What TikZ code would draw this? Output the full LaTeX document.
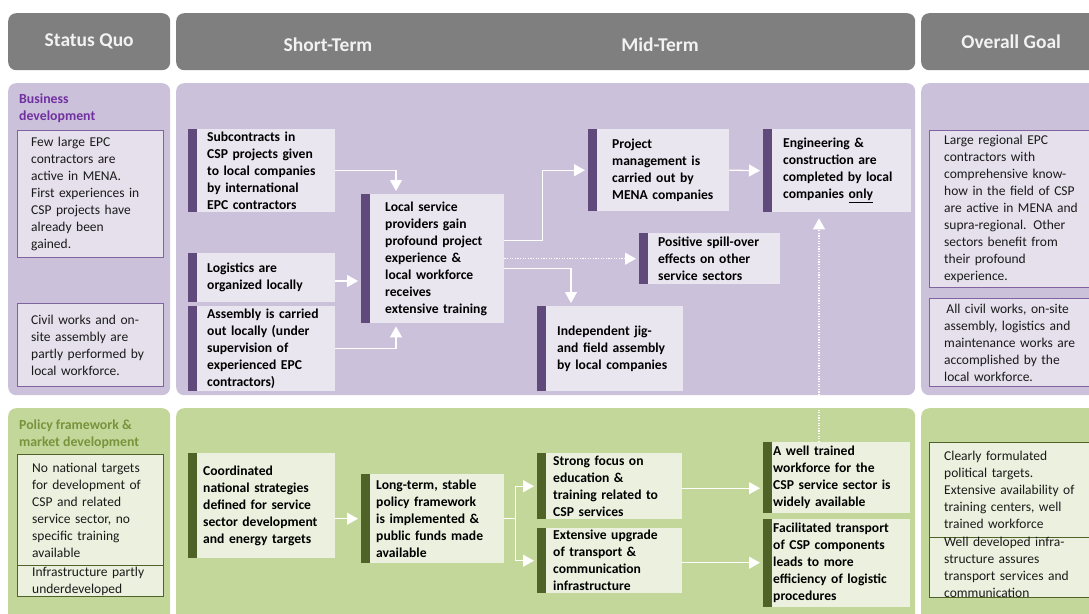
\documentclass[tikz,border=0pt]{standalone}
\usepackage{fontspec}
\setmainfont{Carlito}
\usetikzlibrary{arrows.meta,calc}
\definecolor{hdrc}{HTML}{7F7F7F}
\definecolor{hdrtxtc}{HTML}{F2F2F2}
\definecolor{panP}{HTML}{CCC1DA}
\definecolor{panG}{HTML}{C4D79B}
\definecolor{fillP}{HTML}{EAE6F0}
\definecolor{fillPL}{HTML}{E5E0EC}
\definecolor{barP}{HTML}{604A7B}
\definecolor{bordP}{HTML}{8064A2}
\definecolor{labP}{HTML}{7030A0}
\definecolor{fillG}{HTML}{EBF1DE}
\definecolor{barG}{HTML}{4F6228}
\definecolor{labG}{HTML}{77933C}
\definecolor{txtc}{HTML}{1A1A1A}
\newcommand\pbox[8]{%
  \pgfmathsetmacro\bw{#4-#2}\pgfmathsetmacro\bh{#5-#3}\pgfmathsetmacro\tw{#4-#2-#7}%
  \node[#6, anchor=north west, minimum width=\bw pt, minimum height=\bh pt] (#1) at (#2,#3) {};%
  \node[#6-t, text width=\tw pt, anchor=west] (#1-t) at ([xshift=#7pt]#1.west) {#8};%
}
\begin{document}
\begin{tikzpicture}[x=1pt,y=-1pt,
  hdr/.style={fill=hdrc, rounded corners=8pt, inner sep=0pt, text=hdrtxtc, font=\fontsize{19.5}{22}\selectfont\bfseries},
  hdrtxt/.style={text=hdrtxtc, inner sep=0pt, font=\fontsize{19.5}{22}\selectfont\bfseries},
  panelP/.style={fill=panP, rounded corners=8pt, inner sep=0pt},
  panelG/.style={fill=panG, rounded corners=8pt, inner sep=0pt},
  txtb/.style={inner sep=0pt, align=left, text=black, font=\fontsize{13.6}{17}\selectfont\bfseries},
  txtr/.style={inner sep=0pt, align=left, text=txtc, font=\fontsize{13.5}{17}\selectfont},
  nodeP/.style={fill=fillP, inner sep=0pt, path picture={\fill[barP] (path picture bounding box.north west) rectangle ([xshift=9pt]path picture bounding box.south west);}},
  nodeG/.style={fill=fillG, inner sep=0pt, path picture={\fill[barG] (path picture bounding box.north west) rectangle ([xshift=9pt]path picture bounding box.south west);}},
  nodeP-t/.style={txtb}, nodeG-t/.style={txtb},
  sideP/.style={fill=fillPL, draw=bordP, line width=1pt, inner sep=0pt},
  sideG/.style={fill=fillG, draw=barG, line width=1pt, inner sep=0pt},
  sideP-t/.style={txtr}, sideG-t/.style={txtr},
  lab/.style={inner sep=0pt, align=left, font=\fontsize{13.8}{17}\selectfont\bfseries},
  arr/.style={draw=white, line width=1.3pt, -{Triangle[length=11pt,width=12pt]}, shorten >=3pt},
  darr/.style={arr, dash pattern=on 1.2pt off 1.4pt}
]
\useasboundingbox (0,0) rectangle (1089,613);
\clip (0,0) rectangle (1089,613);

% headers
\node[hdr, anchor=north west, minimum width=162pt, minimum height=57pt] (h1) at (8,13) {Status Quo};
\node[hdr, anchor=north west, minimum width=739pt, minimum height=57pt] (h2) at (176,13) {};
\node[hdrtxt] (h2a) at (328,45) {Short-Term};
\node[hdrtxt] (h2b) at (660,45) {Mid-Term};
\node[hdr, anchor=north west, minimum width=180pt, minimum height=57pt] (h3) at (921,13) {Overall Goal};

% panels
\node[panelP, anchor=north west, minimum width=162pt, minimum height=312pt] (pL1) at (8,83) {};
\node[panelP, anchor=north west, minimum width=739pt, minimum height=312pt] (pM1) at (176,83) {};
\node[panelP, anchor=north west, minimum width=180pt, minimum height=312pt] (pR1) at (921,83) {};
\node[panelG, anchor=north west, minimum width=162pt, minimum height=220pt] (pL2) at (8,408) {};
\node[panelG, anchor=north west, minimum width=739pt, minimum height=220pt] (pM2) at (176,408) {};
\node[panelG, anchor=north west, minimum width=180pt, minimum height=220pt] (pR2) at (921,408) {};

% row labels
\node[lab, text=labP, anchor=west] (labB) at (19,108.5) {Business\\development};
\node[lab, text=labG, anchor=west] (labPo) at (19,434) {Policy framework \&\\market development};

% left column
\pbox{sq1}{17}{130}{163}{257}{sideP}{14}{Few large EPC\\contractors are\\active in MENA.\\First experiences in\\CSP projects have\\already been\\gained.}
\pbox{sq2}{17}{303}{163}{386}{sideP}{14}{Civil works and on-\\site assembly are\\partly performed by\\local workforce.}
\pbox{sq3}{17}{454}{163}{565}{sideG}{15}{No national targets\\for development of\\CSP and related\\service sector, no\\specific training\\available}
\pbox{sq4}{17}{565}{163}{596}{sideG}{15}{Infrastructure partly\\underdeveloped}

% business nodes
\pbox{sub}{188}{129}{335}{212}{nodeP}{19}{Subcontracts in\\CSP projects given\\to local companies\\by international\\EPC contractors}
\pbox{logi}{188}{253}{335}{302}{nodeP}{19}{Logistics are\\organized locally}
\pbox{asm}{188}{306}{335}{391}{nodeP}{19}{Assembly is carried\\out locally (under\\supervision of\\experienced EPC\\contractors)}
\pbox{loc}{361}{194}{504}{323}{nodeP}{24}{Local service\\providers gain\\profound project\\experience \&\\local workforce\\receives\\extensive training}
\pbox{pm}{588}{129}{729}{211}{nodeP}{24}{Project\\management is\\carried out by\\MENA companies}
\pbox{sp}{639}{233}{780}{284}{nodeP}{19}{Positive spill-over\\effects on other\\service sectors}
\pbox{ind}{537}{306}{683}{391}{nodeP}{20}{Independent jig-\\and field assembly\\by local companies}
\pbox{eng}{763}{129}{911}{212}{nodeP}{20}{Engineering \&\\construction are\\completed by local\\companies \underline{only}}

% policy nodes
\pbox{coo}{188}{453}{335}{558}{nodeG}{15}{Coordinated\\national strategies\\defined for service\\sector development\\and energy targets}
\pbox{lt}{361}{474}{504}{563}{nodeG}{15}{Long-term, stable\\policy framework\\is implemented \&\\public funds made\\available}
\pbox{sf}{537}{453}{682}{519}{nodeG}{16}{Strong focus on\\education \&\\training related to\\CSP services}
\pbox{ext}{537}{528}{682}{593}{nodeG}{16}{Extensive upgrade\\of transport \&\\communication\\infrastructure}
\pbox{wt}{763}{442}{910}{513}{nodeG}{10}{A well trained\\workforce for the\\CSP service sector is\\widely available}
\pbox{fac}{763}{519}{910}{607}{nodeG}{10}{Facilitated transport\\of CSP components\\leads to more\\efficiency of logistic\\procedures}

% right column
\pbox{og1}{929}{130}{1100}{287}{sideP}{15}{Large regional EPC\\contractors with\\comprehensive know-\\how in the field of CSP\\are active in MENA and\\supra-regional. Other\\sectors benefit from\\their profound\\experience.}
\pbox{og2}{929}{298}{1100}{386}{sideP}{15}{\,All civil works, on-site\\assembly, logistics and\\maintenance works are\\accomplished by the\\local workforce.}
\pbox{og3}{929}{442}{1100}{537}{sideG}{15}{Clearly formulated\\political targets.\\Extensive availability of\\training centers, well\\trained workforce}
\pbox{og4}{929}{537}{1100}{597}{sideG}{15}{Well developed infra-\\structure assures\\transport services and\\communication}

% connectors business
\draw[arr] (sub.east) -| ([xshift=35pt]loc.north west);
\draw[arr] (logi.east |- 0,281) -- (loc.west |- 0,281);
\draw[arr] (asm.east) -| ([xshift=35pt]loc.south west);
\draw[arr] ([yshift=18pt]loc.east) -- ++(38,0) |- (pm.west);
\draw[darr] (loc.east) -- (sp.west);
\draw[arr] ([yshift=-10pt]loc.east) -| ([xshift=34pt]ind.north west);
\draw[arr] (pm.east) -- (eng.west);
\draw[darr, shorten >=6pt] ([xshift=56pt]wt.north west) -- ([xshift=56pt]eng.south west);

% connectors policy
\draw[arr] (coo.east |- lt.west) -- (lt.west);
\draw[arr] (lt.east) -- ++(11,0) |- (sf.west);
\draw[arr] (lt.east) -- ++(11,0) |- (ext.west);
\draw[arr] ([yshift=-2pt]sf.east) -- ([yshift=-2pt]sf.east -| wt.west);
\draw[arr] ([yshift=-2pt]ext.east) -- ([yshift=-2pt]ext.east -| fac.west);
\end{tikzpicture}
\end{document}
